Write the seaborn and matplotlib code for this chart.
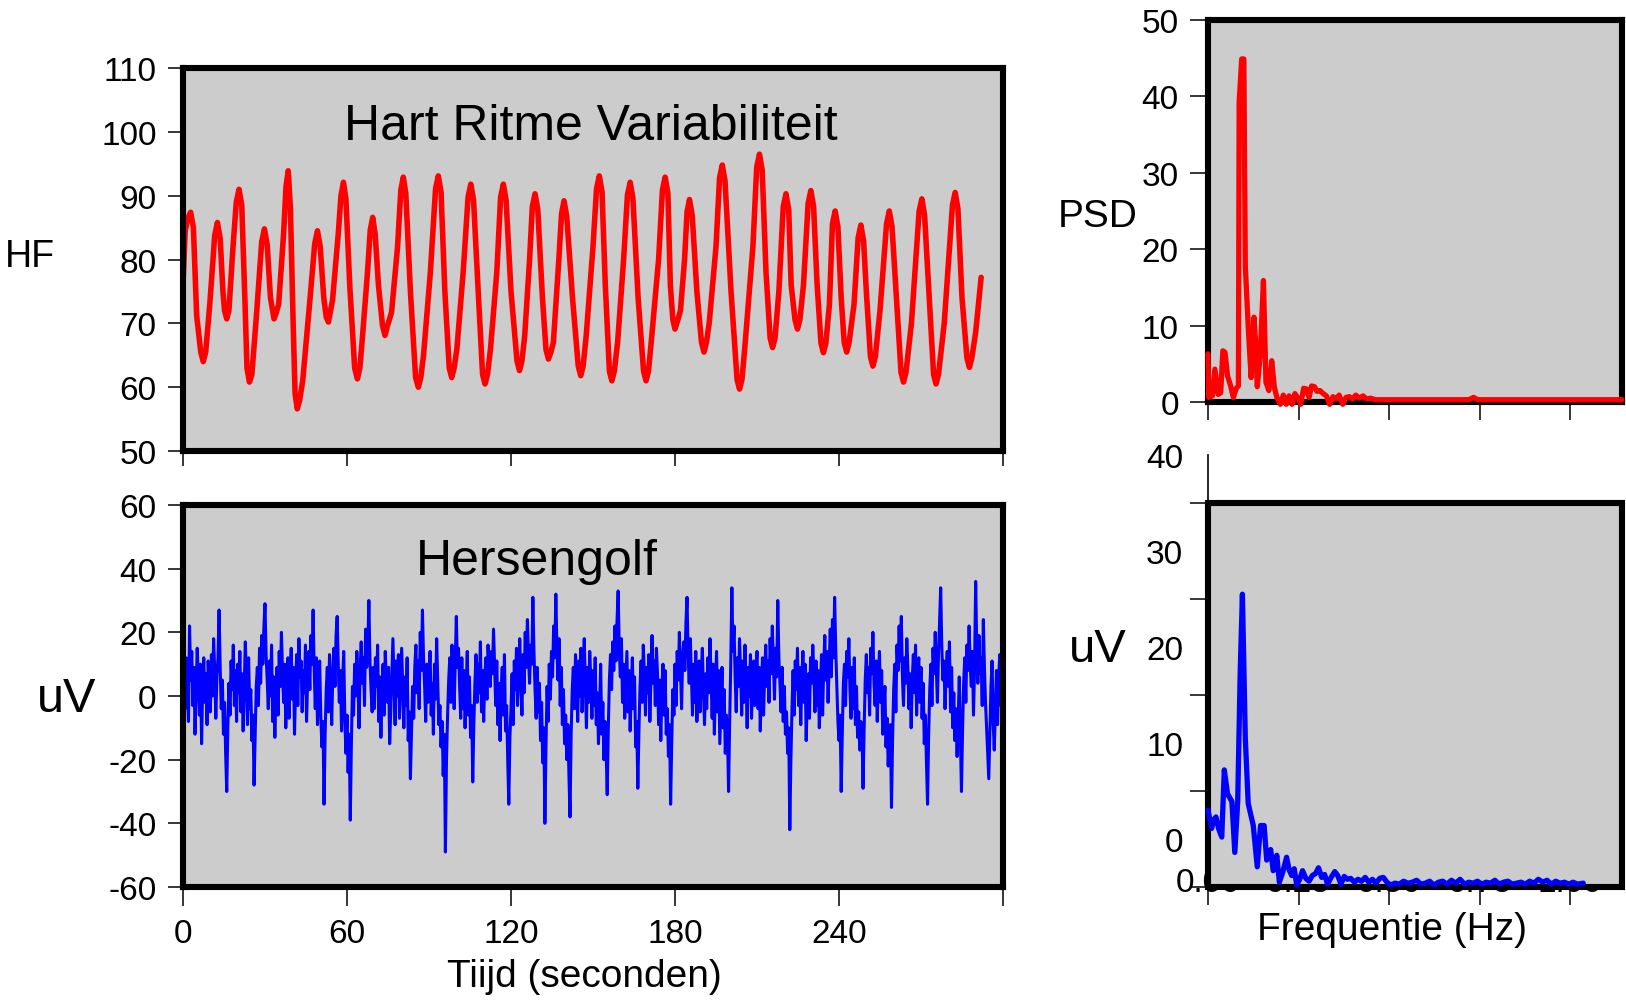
import numpy as np
import pandas as pd
import matplotlib
matplotlib.use("Agg")
import matplotlib.pyplot as plt
import seaborn as sns
from matplotlib.patches import Rectangle

sns.set_style("white")
plt.rcParams['font.family'] = ['Liberation Sans', 'DejaVu Sans']
plt.rcParams['axes.unicode_minus'] = False
plt.rcParams['text.color'] = 'black'
plt.rcParams['xtick.color'] = 'black'
plt.rcParams['ytick.color'] = 'black'
plt.rcParams['axes.labelcolor'] = 'black'

# ---------------- data ----------------
hrv_time = [0.0, 0.8, 1.8, 2.8, 3.8, 5.0, 6.5, 7.4, 8.3, 9.8, 11.6, 12.6, 13.6, 14.6, 15.2,
            16.0, 16.8, 18.3, 19.5, 20.5, 21.5, 22.7, 23.4, 24.3, 25.2, 27.0, 28.8, 29.8,
            30.8, 32.0, 33.3, 34.0, 35.0, 36.8, 37.7, 38.5, 39.3, 40.3, 41.0, 41.8, 42.7,
            43.8, 46.5, 48.2, 49.2, 50.2, 51.5, 52.4, 53.2, 54.7, 56.8, 57.8, 58.7, 59.6,
            61.0, 62.8, 63.8, 64.7, 65.5, 67.5, 68.5, 69.4, 70.3, 71.5, 73.0, 73.9, 74.8,
            76.3, 78.5, 79.7, 80.6, 81.5, 83.2, 85.1, 86.1, 87.0, 88.0, 90.5, 92.4, 93.4,
            94.4, 95.8, 97.4, 98.3, 99.2, 100.2, 102.5, 104.3, 105.3, 106.3, 108.0, 109.6,
            110.5, 111.4, 112.5, 114.8, 116.2, 117.2, 118.2, 120.0, 122.2, 123.1, 124.0,
            125.0, 126.8, 127.8, 128.8, 129.8, 131.5, 132.8, 133.7, 134.6, 135.5, 137.5,
            138.5, 139.4, 140.4, 142.5, 144.6, 145.5, 146.4, 147.5, 150.0, 151.3, 152.3,
            153.3, 154.5, 156.0, 156.9, 157.8, 159.0, 161.2, 162.6, 163.6, 164.6, 166.5,
            168.5, 169.4, 170.3, 171.5, 174.0, 175.4, 176.4, 177.4, 178.3, 179.2, 180.0,
            181.0, 182.0, 183.5, 184.4, 185.3, 186.3, 188.0, 189.7, 190.6, 191.5, 192.5,
            195.0, 196.3, 197.3, 198.3, 200.5, 202.7, 203.6, 204.5, 205.5, 208.5, 209.9,
            210.9, 211.9, 213.3, 214.8, 215.7, 216.6, 218.0, 219.6, 220.6, 221.6, 222.5,
            223.9, 224.8, 225.7, 227.0, 228.7, 229.7, 230.7, 232.0, 233.4, 234.3, 235.2,
            236.5, 237.6, 238.6, 239.6, 240.8, 241.9, 242.8, 243.7, 245.5, 247.0, 248.0,
            249.0, 250.0, 251.5, 252.4, 253.3, 255.0, 257.4, 258.4, 259.4, 261.0, 262.7,
            263.6, 264.5, 266.5, 269.3, 270.3, 271.3, 273.0, 274.6, 275.5, 276.4, 278.5,
            281.5, 282.5, 283.5, 285.0, 286.8, 287.7, 288.6, 290.0, 292.0]
hrv_bpm = [76, 84.5, 86.5, 87.4, 85.0, 71.2, 65.5, 64.0, 65.5, 73, 83.8, 85.8, 83.3, 75, 72,
           70.7, 72, 82, 89, 91, 88.5, 73, 63, 60.8, 62, 72, 82.8, 84.8,
           82.3, 74, 70.7, 71.5, 73, 84, 91.5, 93.9, 88, 70, 59, 56.6, 58,
           61, 74, 82.5, 84.5, 82, 74, 71, 70.2, 73.6, 84, 90, 92.1, 89.5,
           76, 63, 61.3, 63, 67, 78, 84.6, 86.6, 84, 76, 69.6, 68.1, 69.6,
           71.7, 82, 90.9, 92.9, 90.4, 75, 61.5, 60, 61.5, 65, 78, 91.1, 93.1,
           90.6, 75, 63, 61.5, 63, 66, 78, 89.8, 91.8, 89.3, 75, 62,
           60.5, 62, 66, 78, 89.8, 91.8, 89.3, 75, 64.1, 62.6, 64.1,
           68, 80, 88.3, 90.3, 87.8, 74, 65.9, 64.4, 65.5, 67, 80,
           87.2, 89.2, 86.7, 74, 63.3, 61.8, 63.3, 68, 82, 91.1, 93.1,
           90.6, 76, 62.5, 61.0, 62.5, 67, 80, 90.1, 92.1, 89.6, 74,
           62.5, 61.0, 62.5, 68, 80, 90.9, 92.9, 90.4, 76, 70.6, 69.1,
           70.5, 72, 80, 87.4, 89.4, 86.9, 75, 67, 65.5, 67, 70,
           82, 92.8, 94.8, 92.3, 75, 61.2, 59.7, 61.2, 66, 82, 94.5,
           96.5, 94, 78, 67.7, 66.2, 67.7, 75, 88.3, 90.3, 87.8, 76,
           70.6, 69.1, 70.6, 76, 88.8, 90.8, 88.3, 76, 66.9, 65.4, 66.9,
           73, 85.6, 87.6, 85.1, 74, 67, 65.5, 67, 73, 83.4, 85.4,
           82.9, 75, 64.8, 63.3, 64.8, 72, 85.6, 87.6, 85.1, 74, 62.3,
           60.8, 62.3, 70, 87.5, 89.5, 87, 74, 62, 60.5, 62, 70,
           88.5, 90.5, 88, 74, 64.6, 63.1, 64.6, 68.6, 77.2]

eeg_step_s = 0.4
eeg_uv = [
    -10, 8, -4, 12, 2, -8, 22, 5, 14, -3, 9, -12, 1, 15, 6, -6, 10, -15, 3, 12, -2, 7, -9, 11, 4,
    -5, 13, 0, 18, 8, -7, 6, 12, 27, 9, -4, 5, -12, -2, -18, -30, -10, 4, -6, 11, 2, 16, -3, 8, -8,
    10, 1, 14, -5, 7, -11, 3, 17, 6, -9, 12, -4, 2, -14, -6, -28, -12, 3, 9, -3, 15, 4, 19, 10, 22,
    29, 13, 5, -4, 11, 0, 16, -8, 6, -13, 2, 9, -6, 14, 3, 20, 8, -2, 10, -10, 4, 12, -7, 7, 15,
    -1, 9, -12, 4, 13, -3, 18, 6, 11, -5, 8, 1, 16, -8, 5, 14, 2, 19, 10, 27, 8, -4, 12, -9, 3,
    11, -6, -16, -8, -34, -12, 2, 9, -5, 13, 4, -9, 7, 15, 3, 19, 25, 10, -2, 8, -11, 5, 14, -7, -18,
    -6, -24, -12, -39, -15, 3, -6, 10, 0, 14, 5, -10, 8, 17, 4, 12, -3, 21, 9, 15, 30, 11, 2, -5, 9,
    -4, 12, 3, 16, -8, 6, -13, 1, 10, -6, 14, 4, -2, 9, -15, -5, 7, 18, 5, -9, 11, 0, 13, -7, 4,
    15, 2, -10, 6, -3, 12, -14, -5, -26, -11, 3, -7, 9, 16, 1, 11, -4, 20, 8, 27, 12, 3, -8, 10, -2,
    7, 14, -6, 4, -12, 10, -1, 18, 5, -9, -3, -16, -8, -25, -12, -49, -20, -6, 5, 12, -2, 16, 8, -4, 11,
    25, 9, 15, 3, -7, 12, -4, 8, -10, 2, 14, -6, 6, -13, -3, -27, -9, 4, 13, -2, 10, 1, 17, -5, 8,
    -8, 6, 12, -1, 16, 9, 3, 14, 7, 21, 10, -3, 11, -9, 4, -14, 2, 9, -6, 13, -11, -3, -20, -34, -13,
    -4, 7, -9, 11, 2, 15, -3, 8, 18, 5, -6, 13, 1, 20, 9, 24, 12, 4, 16, 10, 31, 14, 2, -7, 9,
    -5, 4, -14, -2, -21, -10, -40, -16, 3, -8, 10, -1, 14, 6, 22, 12, 32, 15, 5, 18, -3, 9, -9, 2, -15,
    -6, -20, -9, -25, -38, -12, 2, 9, -4, 13, 6, -8, 11, 0, 15, -5, 7, 18, 3, -10, 9, -2, 14, 5, -7,
    8, -3, 12, -9, 1, -15, -4, 10, -12, -2, -20, -8, -17, -31, -10, 5, 13, 2, 17, 8, 22, 11, 24, 33, 15,
    6, 18, -2, 10, -7, 4, 14, -5, 8, -11, 2, 12, -4, 6, -16, -8, -29, -11, 3, 11, -2, 16, 7, -6, 9,
    1, 13, -8, 6, 19, 4, 11, -3, 15, 7, -9, 5, -14, 2, 10, -6, 8, -12, -4, -19, -9, -34, -15, 2, -6,
    10, -3, 14, 5, 20, 9, -4, 12, 17, 8, 23, 31, 13, 4, 18, 7, -6, 10, -2, 14, -8, 3, 11, -5, 6,
    15, 2, -9, 7, -4, 12, 1, 18, 6, -7, 10, -12, 3, 14, -5, 8, -15, -3, 9, -10, 2, -18, -6, -12, -30,
    -8, 10, 34, 14, 22, 6, -5, 12, 3, 18, 8, -6, 11, -2, 16, 5, -10, 9, 0, 13, -7, 4, 11, -3, 7,
    14, -4, 9, -11, 2, 12, -6, 7, 16, 3, 11, -2, 18, 7, 22, 10, -1, 15, 6, 30, 12, 4, -5, 9, -8,
    3, -12, -5, -18, -10, -42, -20, -4, 8, -6, 11, 2, 15, -3, 9, -9, 5, 14, -2, 10, -14, 0, 7, -7, 12,
    4, 16, 7, -5, 11, -3, 8, -10, 2, 13, -6, 9, 19, 5, 14, -2, 10, 21, 6, 24, 12, 31, 15, 3, -8,
    -14, -6, -30, -12, 4, 10, -3, 14, 6, 18, 2, -7, 9, -4, 12, -9, 3, -13, -5, -17, -8, -11, -29, -10, 5,
    13, 1, 9, -6, 15, 7, 20, 4, -3, 11, -8, 6, 14, -2, 8, -12, -4, 3, -16, -7, -22, -12, -9, -35, -14,
    2, 10, -5, 16, 8, 22, 11, 25, 6, -3, 12, 4, 18, 9, -4, 7, -10, 5, 13, 1, 16, -6, 8, 12, -2,
    9, -7, 4, -15, -6, -21, -34, -12, 2, 10, -3, 15, 7, 20, 9, -2, 13, 24, 34, 16, 5, 11, -4, 8, 14,
    3, 17, -5, 9, -10, 1, -14, -4, -19, -8, 6, -12, -30, -11, 4, 12, -2, 16, 8, 22, 10, 3, 14, -6, 9,
    36, 15, 4, 19, 7, 12, -3, 24, 9, -2, -10, -18, -26, -12, 3, 11, -8, -17, -4, 8, -9, 5, 13, -3, 22,
]

hrv_psd_freq = [0.000, 0.002, 0.012, 0.019, 0.028, 0.035, 0.041, 0.047, 0.054, 0.062, 0.070,
                0.078, 0.084, 0.086, 0.093, 0.099, 0.103, 0.112, 0.119, 0.127, 0.131, 0.136,
                0.144, 0.153, 0.160, 0.168, 0.176, 0.183, 0.190, 0.200, 0.208, 0.216, 0.224,
                0.232, 0.240, 0.248, 0.256, 0.264, 0.272, 0.279, 0.286, 0.294, 0.301, 0.309,
                0.318, 0.327, 0.336, 0.345, 0.354, 0.362, 0.372, 0.381, 0.390, 0.399, 0.408,
                0.418, 0.428, 0.438, 0.450, 0.460, 0.550, 0.650, 0.720, 0.733, 0.745, 0.850,
                0.950, 1.050, 1.143]
hrv_psd = [6.3, 0.6, 0.8, 4.3, 1.0, 1.2, 6.7, 6.5, 3.4, 2.2, 0.6,
           1.8, 2.1, 39.2, 44.9, 44.9, 17.8, 9.0, 3.2, 11.1, 8.0, 2.0,
           6.0, 15.9, 2.6, 1.5, 5.4, 2.0, 0.6, -0.3, 0.9, -0.3, 0.8,
           -0.3, 1.1, 0.5, -0.3, 1.8, 1.7, 0.6, 2.1, 2.0, 1.4, 1.5,
           1.1, 0.8, -0.3, 0.7, 0.4, 0.9, -0.3, 0.6, 0.7, 0.4, 0.9,
           0.5, 0.8, 0.4, 0.5, 0.3, 0.3, 0.3, 0.3, 0.6, 0.3, 0.3,
           0.3, 0.3, 0.3]

eeg_psd_freq = [0.000, 0.010, 0.016, 0.022, 0.030, 0.038, 0.045, 0.054, 0.066, 0.074, 0.082,
                0.089, 0.095, 0.103, 0.111, 0.125, 0.136, 0.145, 0.155, 0.162, 0.173, 0.180,
                0.190, 0.197, 0.206, 0.217, 0.224, 0.231, 0.238, 0.245, 0.253, 0.261, 0.270,
                0.279, 0.288, 0.297, 0.305, 0.314, 0.322, 0.330, 0.340, 0.350, 0.358, 0.367,
                0.376, 0.385, 0.394, 0.404, 0.414, 0.424, 0.434, 0.444, 0.454, 0.464, 0.474,
                0.484, 0.494, 0.504, 0.516, 0.528, 0.540, 0.552, 0.564, 0.576, 0.588, 0.600,
                0.612, 0.624, 0.636, 0.648, 0.660, 0.672, 0.684, 0.696, 0.708, 0.720, 0.732,
                0.744, 0.756, 0.768, 0.780, 0.792, 0.804, 0.816, 0.828, 0.840, 0.852, 0.864,
                0.876, 0.888, 0.900, 0.912, 0.924, 0.936, 0.948, 0.960, 0.972, 0.984, 0.996,
                1.008, 1.020, 1.036]
eeg_psd = [8.0, 6.1, 7.0, 7.3, 6.0, 5.2, 12.2, 9.7, 8.9, 3.6, 8.9,
           22.5, 30.5, 15.5, 8.7, 6.4, 2.1, 6.4, 6.4, 2.8, 3.9, 1.7,
           3.3, 0.5, 1.5, 3.1, 1.8, 1.2, 1.9, 0.2, 0.8, 1.7, 0.9,
           0.6, 1.2, 1.4, 2.0, 1.0, 1.3, 0.3, 1.0, 1.6, 1.2, 0.3,
           1.1, 0.8, 0.9, 0.5, 0.8, 0.6, 1.0, 0.5, 0.8, 0.4, 0.9,
           1.0, 0.5, 0.2, 0.4, 0.3, 0.6, 0.4, 0.5, 0.7, 0.3, 0.4,
           0.6, 0.2, 0.5, 0.6, 0.3, 0.7, 0.4, 0.8, 0.3, 0.5, 0.4,
           0.6, 0.3, 0.5, 0.4, 0.7, 0.3, 0.5, 0.6, 0.3, 0.4, 0.5,
           0.3, 0.6, 0.4, 0.8, 0.5, 0.7, 0.3, 0.6, 0.4, 0.5, 0.3,
           0.5, 0.3, 0.4]

time_ticks = [0, 60, 120, 180, 240, 300]
time_ticklabels = ["0", "60", "120", "180", "240", ""]
hr_ticks = [50, 60, 70, 80, 90, 100, 110]
uv_ticks = [-60, -40, -20, 0, 20, 40, 60]
psd_ticks = [0, 10, 20, 30, 40, 50]
freq_ticks = [0, 0.25, 0.5, 0.75, 1.0]
freq_ticklabels = ["0.00", "0.25", "0.50", "0.75", "1.00"]
eeg_psd_minor = [0, 10, 20, 30, 40]
eeg_psd_major = [5, 15, 25, 35, 45]
eeg_psd_labels = ["0", "10", "20", "30", "40"]

# ---------------- figure ----------------
W, H = 1626, 1003
fig = plt.figure(figsize=(W / 100, H / 100), dpi=100)
GRAY = "#cccccc"
FRAME_LW = 4.4
TICK_FS = 24


def px_axes(x0, y0, x1, y1):
    return fig.add_axes([x0 / W, 1 - y1 / H, (x1 - x0) / W, (y1 - y0) / H])


def frame(ax):
    ax.set_facecolor(GRAY)
    for s in ax.spines.values():
        s.set_visible(True)
        s.set_linewidth(FRAME_LW)
        s.set_color("black")


# ---- top-left: HRV ----
ax1 = px_axes(183, 69, 1003, 452)
frame(ax1)
sns.lineplot(x=hrv_time, y=hrv_bpm, ax=ax1, color="#ff0000", linewidth=4.0,
             estimator=None, sort=False)
ax1.set_xlim(0, 300)
ax1.set_ylim(50, 110)
ax1.set_xticks(time_ticks)
ax1.set_xticklabels([])
ax1.set_yticks(hr_ticks)
ax1.tick_params(axis="both", direction="out", length=11, width=1.1, pad=8,
                labelsize=TICK_FS, bottom=True, left=True, colors="black")
ax1.set_xlabel("")
ax1.set_ylabel("")
ax1.text(0.4976, 0.8146, "Hart Ritme Variabiliteit", transform=ax1.transAxes,
         ha="center", va="baseline", fontsize=36, color="black")

# ---- bottom-left: EEG ----
ax2 = px_axes(183, 506, 1003, 888)
frame(ax2)
eeg_time = np.arange(len(eeg_uv)) * eeg_step_s
sns.lineplot(x=eeg_time, y=eeg_uv, ax=ax2, color="#0000ff", linewidth=2.2,
             estimator=None, sort=False)
ax2.set_xlim(0, 300)
ax2.set_ylim(-60, 60)
ax2.set_xticks(time_ticks)
ax2.set_xticklabels(time_ticklabels)
ax2.set_yticks(uv_ticks)
ax2.tick_params(axis="both", direction="out", length=11, width=1.1, pad=8,
                labelsize=TICK_FS, bottom=True, left=True, colors="black")
ax2.tick_params(axis="x", length=14, pad=8)
ax2.set_xlabel("")
ax2.set_ylabel("")
ax2.text(0.4317, 0.8194, "Hersengolf", transform=ax2.transAxes,
         ha="center", va="baseline", fontsize=36, color="black")

# ---- top-right: HRV PSD ----
ax3 = px_axes(1208, 21, 1622, 403)
frame(ax3)
sns.lineplot(x=hrv_psd_freq, y=hrv_psd, ax=ax3, color="#ff0000", linewidth=3.8,
             estimator=None, sort=False, zorder=4, clip_on=False)
ax3.set_xlim(0, 1.143)
ax3.set_ylim(0, 50)
ax3.set_xticks(freq_ticks)
ax3.set_xticklabels([])
ax3.set_yticks(psd_ticks)
ax3.tick_params(axis="both", direction="out", length=13, width=1.1, pad=8,
                labelsize=TICK_FS, bottom=True, left=True, colors="black")
ax3.set_xlabel("")
ax3.set_ylabel("")

# ---- bottom-right: EEG PSD ----
ax4 = px_axes(1208, 456, 1622, 888)
ax4.set_facecolor("white")
for k in ["top", "right", "bottom"]:
    ax4.spines[k].set_visible(False)
ax4.spines["left"].set_visible(True)
ax4.spines["left"].set_linewidth(1.2)
ax4.spines["left"].set_color("black")
ax4.set_xlim(0, 1.143)
ax4.set_ylim(0, 45)
ax4.add_patch(Rectangle((0, 0), 1.143, 40, facecolor=GRAY, edgecolor="black",
                        linewidth=FRAME_LW, zorder=1, clip_on=False))
for xv, lab in zip(freq_ticks, freq_ticklabels):
    ax4.text(xv, 0.5, lab, ha="center", va="center", fontsize=TICK_FS, zorder=0.5,
             clip_on=False, color="black")
sns.lineplot(x=eeg_psd_freq, y=eeg_psd, ax=ax4, color="#0000ff", linewidth=3.8,
             estimator=None, sort=False, zorder=4, clip_on=False)
ax4.set_xticks(freq_ticks)
ax4.set_xticklabels([])
ax4.set_yticks(eeg_psd_major)
ax4.set_yticklabels(eeg_psd_labels)
ax4.set_yticks(eeg_psd_minor, minor=True)
ax4.tick_params(axis="y", which="major", length=0, pad=18, labelsize=TICK_FS,
                colors="black")
ax4.tick_params(axis="y", which="minor", direction="out", length=13, width=1.1,
                left=True, colors="black")
ax4.tick_params(axis="x", direction="out", length=13, width=1.1, bottom=True,
                colors="black")
ax4.set_xlabel("")
ax4.set_ylabel("")

# ---- outer labels ----
fig.text(30 / W, 1 - 257 / H, "HF", ha="center", va="center", fontsize=27)
fig.text(67 / W, 1 - 700 / H, "uV", ha="center", va="center", fontsize=35)
fig.text(1098 / W, 1 - 217 / H, "PSD", ha="center", va="center", fontsize=28)
fig.text(1098 / W, 1 - 650 / H, "uV", ha="center", va="center", fontsize=34)
fig.text(584 / W, 1 - 977 / H, "Tiijd (seconden)", ha="center", va="center", fontsize=28)
fig.text(1392 / W, 1 - 930 / H, "Frequentie (Hz)", ha="center", va="center", fontsize=28)

fig.savefig("out.png", dpi=100, facecolor="white")
